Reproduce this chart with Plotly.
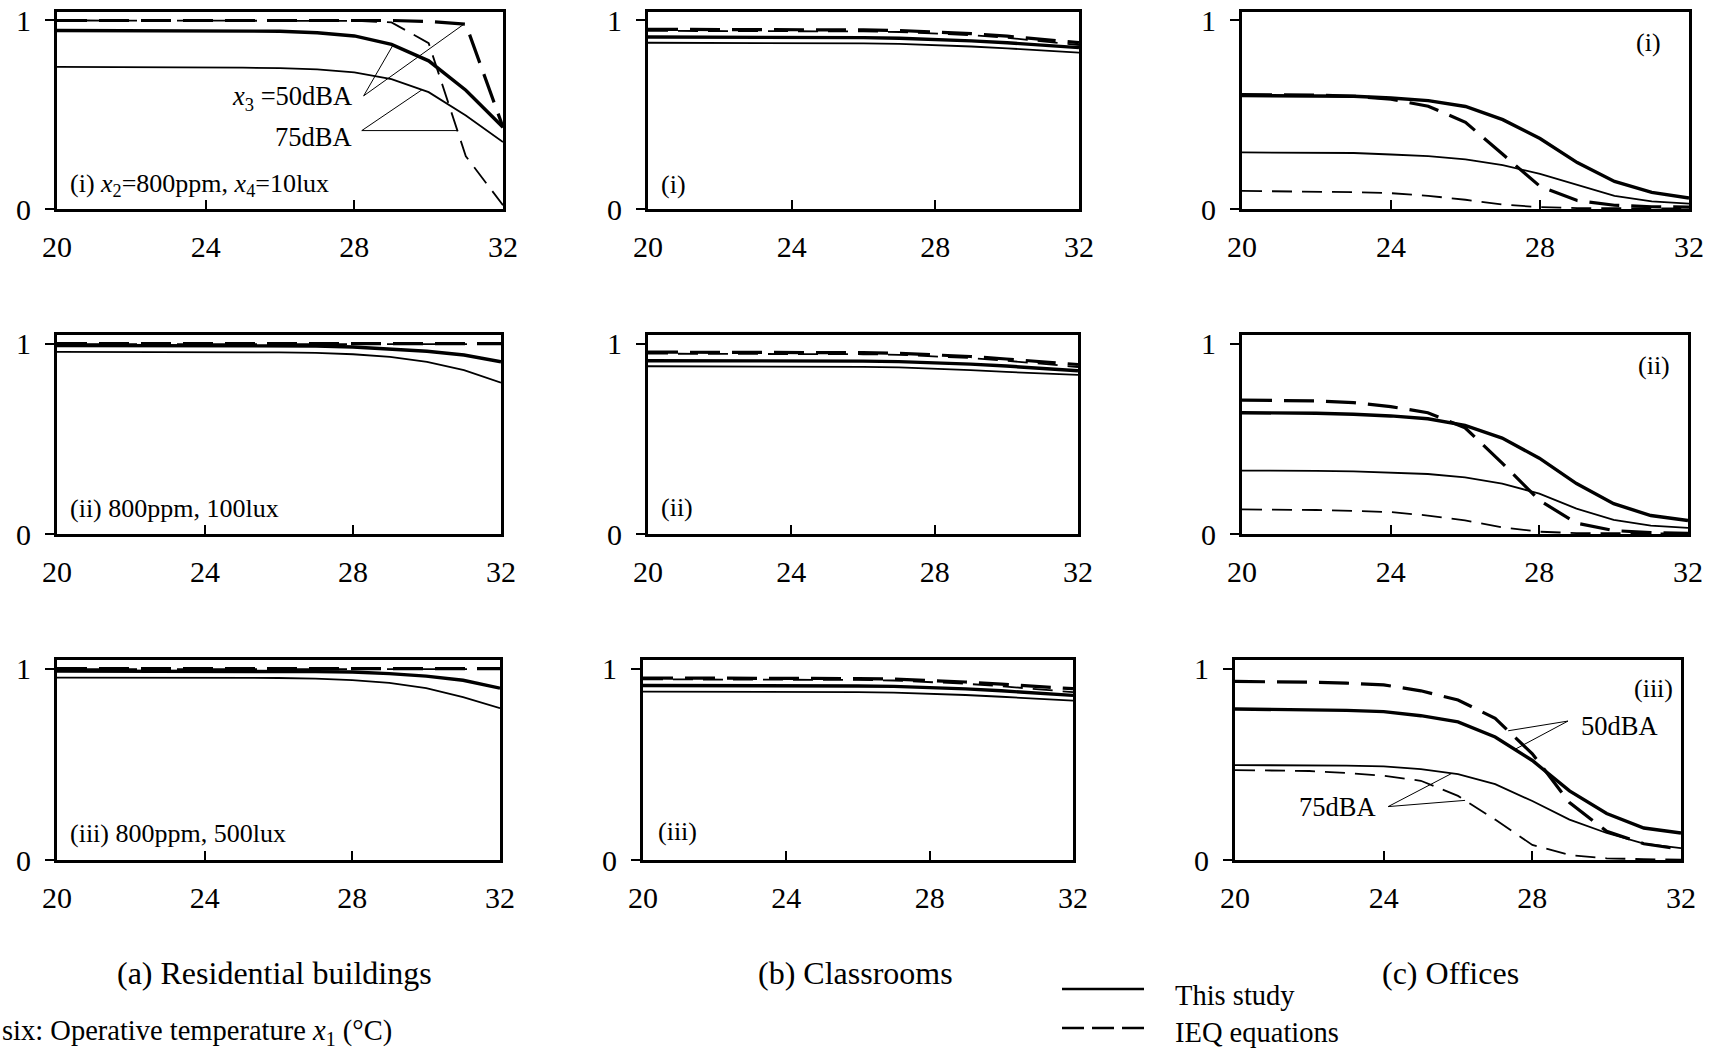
import numpy as np
import plotly.graph_objects as go

# ---------------- data ----------------
temps = [20, 21, 22, 23, 24, 25, 26, 27, 28, 29, 30, 31, 32]

# (a) Residential buildings
a1_this50 = [0.947, 0.947, 0.947, 0.946, 0.946, 0.945, 0.943, 0.935, 0.918, 0.873, 0.786, 0.630, 0.434]
a1_this75 = [0.754, 0.754, 0.753, 0.753, 0.752, 0.750, 0.747, 0.741, 0.725, 0.689, 0.620, 0.496, 0.355]
a1_ieq50 = [1.0, 1.0, 1.0, 1.0, 1.0, 1.0, 1.0, 1.0, 1.0, 1.0, 0.995, 0.980, 0.434]
a1_ieq75 = [1.0, 1.0, 1.0, 1.0, 1.0, 1.0, 1.0, 1.0, 0.998, 0.990, 0.880, 0.280, 0.020]

a2_this50 = [0.990, 0.990, 0.990, 0.990, 0.990, 0.990, 0.989, 0.987, 0.982, 0.973, 0.960, 0.940, 0.904]
a2_this75 = [0.956, 0.956, 0.956, 0.956, 0.955, 0.955, 0.954, 0.951, 0.944, 0.930, 0.904, 0.860, 0.795]
a2_ieq50 = [1.0, 1.0, 1.0, 1.0, 1.0, 1.0, 1.0, 1.0, 1.0, 1.0, 1.0, 1.0, 1.0]
a2_ieq75 = [0.997, 0.997, 0.997, 0.997, 0.997, 0.997, 0.997, 0.997, 0.997, 0.997, 0.997, 0.997, 0.997]

a3_this50 = [0.987, 0.987, 0.987, 0.987, 0.987, 0.986, 0.985, 0.984, 0.982, 0.974, 0.961, 0.939, 0.898]
a3_this75 = [0.953, 0.953, 0.953, 0.953, 0.952, 0.952, 0.951, 0.948, 0.940, 0.926, 0.898, 0.851, 0.793]
a3_ieq50 = [1.0, 1.0, 1.0, 1.0, 1.0, 1.0, 1.0, 1.0, 1.0, 1.0, 1.0, 1.0, 1.0]
a3_ieq75 = [0.997, 0.997, 0.997, 0.997, 0.997, 0.997, 0.997, 0.997, 0.997, 0.997, 0.997, 0.997, 0.997]

# (b) Classrooms
b1_this50 = [0.912, 0.912, 0.912, 0.911, 0.911, 0.910, 0.909, 0.906, 0.900, 0.892, 0.882, 0.869, 0.856]
b1_this75 = [0.882, 0.882, 0.882, 0.881, 0.881, 0.880, 0.879, 0.876, 0.870, 0.862, 0.852, 0.841, 0.830]
b1_ieq50 = [0.953, 0.953, 0.953, 0.952, 0.952, 0.951, 0.950, 0.947, 0.940, 0.930, 0.917, 0.900, 0.882]
b1_ieq75 = [0.945, 0.945, 0.945, 0.944, 0.944, 0.943, 0.942, 0.939, 0.932, 0.922, 0.908, 0.890, 0.870]

b2_this50 = [0.910, 0.910, 0.910, 0.910, 0.909, 0.909, 0.908, 0.905, 0.900, 0.892, 0.882, 0.870, 0.857]
b2_this75 = [0.881, 0.881, 0.881, 0.880, 0.880, 0.879, 0.878, 0.875, 0.869, 0.861, 0.851, 0.842, 0.836]
b2_ieq50 = [0.955, 0.955, 0.955, 0.954, 0.954, 0.953, 0.952, 0.949, 0.942, 0.932, 0.919, 0.904, 0.890]
b2_ieq75 = [0.947, 0.947, 0.947, 0.946, 0.946, 0.945, 0.944, 0.941, 0.934, 0.924, 0.910, 0.893, 0.877]

b3_this50 = [0.912, 0.912, 0.912, 0.911, 0.911, 0.910, 0.909, 0.907, 0.902, 0.894, 0.884, 0.872, 0.860]
b3_this75 = [0.880, 0.880, 0.880, 0.879, 0.879, 0.878, 0.877, 0.875, 0.870, 0.862, 0.853, 0.843, 0.833]
b3_ieq50 = [0.951, 0.951, 0.951, 0.950, 0.950, 0.949, 0.948, 0.945, 0.939, 0.930, 0.919, 0.907, 0.895]
b3_ieq75 = [0.944, 0.944, 0.944, 0.943, 0.943, 0.942, 0.941, 0.938, 0.931, 0.921, 0.908, 0.893, 0.877]

# (c) Offices
c1_this50 = [0.602, 0.601, 0.600, 0.598, 0.589, 0.575, 0.544, 0.474, 0.374, 0.246, 0.146, 0.088, 0.058]
c1_this75 = [0.300, 0.300, 0.299, 0.297, 0.289, 0.280, 0.263, 0.233, 0.186, 0.128, 0.070, 0.040, 0.028]
c1_ieq50 = [0.607, 0.606, 0.604, 0.598, 0.582, 0.545, 0.460, 0.290, 0.120, 0.045, 0.020, 0.012, 0.010]
c1_ieq75 = [0.096, 0.095, 0.093, 0.089, 0.084, 0.070, 0.049, 0.023, 0.010, 0.005, 0.004, 0.003, 0.003]

c2_this50 = [0.637, 0.636, 0.634, 0.629, 0.620, 0.605, 0.570, 0.504, 0.398, 0.265, 0.159, 0.097, 0.071]
c2_this75 = [0.333, 0.333, 0.332, 0.329, 0.322, 0.315, 0.297, 0.265, 0.212, 0.133, 0.074, 0.044, 0.032]
c2_ieq50 = [0.703, 0.702, 0.699, 0.690, 0.669, 0.637, 0.558, 0.372, 0.177, 0.057, 0.018, 0.007, 0.004]
c2_ieq75 = [0.129, 0.128, 0.126, 0.121, 0.115, 0.097, 0.071, 0.035, 0.012, 0.005, 0.004, 0.003, 0.003]

c3_this50 = [0.789, 0.788, 0.786, 0.782, 0.775, 0.754, 0.722, 0.643, 0.520, 0.361, 0.243, 0.167, 0.141]
c3_this75 = [0.496, 0.496, 0.495, 0.493, 0.489, 0.475, 0.449, 0.396, 0.308, 0.211, 0.141, 0.085, 0.062]
c3_ieq50 = [0.933, 0.932, 0.929, 0.924, 0.915, 0.884, 0.836, 0.740, 0.555, 0.300, 0.150, 0.085, 0.056]
c3_ieq75 = [0.470, 0.469, 0.465, 0.455, 0.440, 0.414, 0.335, 0.211, 0.079, 0.026, 0.009, 0.004, 0.002]

x_ticks = [20, 24, 28, 32]
y_ticks = [0, 1]

panel_labels = [
    ["(i) <i>x</i><sub>2</sub>=800ppm, <i>x</i><sub>4</sub>=10lux", "(i)", "(i)"],
    ["(ii) 800ppm, 100lux", "(ii)", "(ii)"],
    ["(iii) 800ppm, 500lux", "(iii)", "(iii)"],
]
captions = ["(a) Residential buildings", "(b) Classrooms", "(c) Offices"]

panels = [
    [(a1_this50, a1_this75, a1_ieq50, a1_ieq75), (b1_this50, b1_this75, b1_ieq50, b1_ieq75), (c1_this50, c1_this75, c1_ieq50, c1_ieq75)],
    [(a2_this50, a2_this75, a2_ieq50, a2_ieq75), (b2_this50, b2_this75, b2_ieq50, b2_ieq75), (c2_this50, c2_this75, c2_ieq50, c2_ieq75)],
    [(a3_this50, a3_this75, a3_ieq50, a3_ieq75), (b3_this50, b3_this75, b3_ieq50, b3_ieq75), (c3_this50, c3_this75, c3_ieq50, c3_ieq75)],
]

# ---------------- layout geometry (pixels) ----------------
W, H = 1716, 1052
FONT = "Liberation Serif, Times New Roman, serif"

def px(x):
    return x / W

def py(y):
    return 1 - y / H

# (left, right, top, bottom) of each panel frame
boxes = [
    [(57, 503, 12, 209), (648, 1079, 12, 209), (1242, 1689, 12, 209)],
    [(57, 501, 335, 534), (648, 1078, 335, 534), (1242, 1688, 335, 534)],
    [(57, 500, 660, 860), (643, 1073, 660, 860), (1235, 1681, 660, 860)],
]

YMAX = 1.045

fig = go.Figure()
layout = dict(
    width=W, height=H, margin=dict(l=0, r=0, t=0, b=0, pad=0, autoexpand=False),
    paper_bgcolor="white", plot_bgcolor="white", showlegend=False,
    font=dict(family=FONT, color="black"),
)

styles = [
    dict(width=3.4, dash="solid"),
    dict(width=1.8, dash="solid"),
    dict(width=3.2, dash="30px,12px"),
    dict(width=1.8, dash="20px,10px"),
]
names = ["This study, 50dBA", "This study, 75dBA", "IEQ equations, 50dBA", "IEQ equations, 75dBA"]

annotations = []
shapes = []

for r in range(3):
    for c in range(3):
        i = r * 3 + c + 1
        xa = "x" if i == 1 else f"x{i}"
        ya = "y" if i == 1 else f"y{i}"
        l, rr, t, b = boxes[r][c]
        layout[f"xaxis{i}"] = dict(
            domain=[px(l), px(rr)], range=[20, 32], anchor=ya, automargin=False,
            tickvals=x_ticks, ticks="inside", ticklen=9, tickwidth=2, tickcolor="black",
            showline=True, linewidth=3, linecolor="black", mirror=True,
            showgrid=False, zeroline=False, tickfont=dict(size=30, family=FONT, color="black"),
            ticklabelstandoff=9,
        )
        layout[f"yaxis{i}"] = dict(
            domain=[py(b), py(t)], range=[0, YMAX], anchor=xa, automargin=False,
            tickvals=y_ticks, ticks="outside", ticklen=9, tickwidth=1.5, tickcolor="black",
            showline=True, linewidth=3, linecolor="black", mirror=True,
            showgrid=False, zeroline=False, tickfont=dict(size=30, family=FONT, color="black"),
            ticklabelstandoff=8,
        )
        for k, series in enumerate(panels[r][c]):
            fig.add_trace(go.Scatter(
                x=temps, y=series, mode="lines", name=names[k],
                line=dict(color="black", width=styles[k]["width"], dash=styles[k]["dash"]),
                xaxis=xa, yaxis=ya, hoverinfo="x+y+name",
            ))

# panel labels
label_pos = [
    [(68, 185, "left"), (659, 185, "left"), (1663, 43, "right")],
    [(68, 508, "left"), (659, 507, "left"), (1672, 365, "right")],
    [(68, 833, "left"), (656, 831, "left"), (1675, 688, "right")],
]
for r in range(3):
    for c in range(3):
        x0, y0, anc = label_pos[r][c]
        annotations.append(dict(
            text=panel_labels[r][c], x=px(x0), y=py(y0), xref="paper", yref="paper",
            xanchor=anc, yanchor="middle", showarrow=False,
            font=dict(size=26, family=FONT, color="black"),
        ))

# captions
for txt, cx in zip(captions, [274, 855, 1450]):
    annotations.append(dict(
        text=txt, x=px(cx), y=py(973), xref="paper", yref="paper",
        xanchor="center", yanchor="middle", showarrow=False,
        font=dict(size=32, family=FONT, color="black"),
    ))

annotations.append(dict(
    text="six: Operative temperature <i>x</i><sub>1</sub> (°C)", x=0, y=py(1032),
    xref="paper", yref="paper", xanchor="left", yanchor="middle", showarrow=False,
    font=dict(size=28.5, family=FONT, color="black"),
))

# legend drawn manually
shapes.append(dict(type="line", xref="paper", yref="paper",
                   x0=px(1062), x1=px(1144), y0=py(989), y1=py(989),
                   line=dict(color="black", width=2.5)))
shapes.append(dict(type="line", xref="paper", yref="paper",
                   x0=px(1062), x1=px(1144), y0=py(1028), y1=py(1028),
                   line=dict(color="black", width=2.5, dash="22px,8px")))
annotations.append(dict(text="This study", x=px(1173), y=py(995), xref="paper", yref="paper",
                        xanchor="left", yanchor="middle", showarrow=False,
                        font=dict(size=28.5, family=FONT, color="black")))
annotations.append(dict(text="IEQ equations", x=px(1173), y=py(1032), xref="paper", yref="paper",
                        xanchor="left", yanchor="middle", showarrow=False,
                        font=dict(size=28.5, family=FONT, color="black")))

# ---------------- leader annotations ----------------
def on(series, xv):
    return float(np.interp(xv, temps, series))

def leader(xref, yref, x0, y0, x1, y1):
    shapes.append(dict(type="line", xref=xref, yref=yref, x0=x0, y0=y0, x1=x1, y1=y1,
                       line=dict(color="black", width=1)))

# panel (a)(i)
annotations.append(dict(text="<i>x</i><sub>3</sub> =50dBA", x=28.0, y=0.59, xref="x", yref="y",
                        xanchor="right", yanchor="middle", showarrow=False,
                        font=dict(size=26.5, family=FONT, color="black")))
annotations.append(dict(text="75dBA", x=28.0, y=0.38, xref="x", yref="y",
                        xanchor="right", yanchor="middle", showarrow=False,
                        font=dict(size=26.5, family=FONT, color="black")))
leader("x", "y", 28.25, 0.60, 29.04, on(a1_this50, 29.04))
leader("x", "y", 28.25, 0.60, 30.95, on(a1_ieq50, 30.95))
leader("x", "y", 28.2, 0.416, 29.82, on(a1_this75, 29.82))
# horizontal leader reaching the falling IEQ 75dBA curve
seg_x = temps[10:12]
seg_y = a1_ieq75[10:12]
x_hit = float(np.interp(0.416, seg_y[::-1], seg_x[::-1]))
leader("x", "y", 28.2, 0.416, x_hit, 0.416)

# panel (c)(iii)
annotations.append(dict(text="50dBA", x=29.25, y=0.70, xref="x9", yref="y9",
                        xanchor="left", yanchor="middle", showarrow=False,
                        font=dict(size=26.5, family=FONT, color="black")))
annotations.append(dict(text="75dBA", x=22.77, y=0.279, xref="x9", yref="y9",
                        xanchor="center", yanchor="middle", showarrow=False,
                        font=dict(size=26.5, family=FONT, color="black")))
leader("x9", "y9", 28.96, 0.726, 27.35, on(c3_ieq50, 27.35))
leader("x9", "y9", 28.96, 0.726, 27.53, on(c3_this50, 27.53))
leader("x9", "y9", 24.12, 0.279, 25.84, on(c3_this75, 25.84))
leader("x9", "y9", 24.12, 0.279, 26.19, on(c3_ieq75, 26.19))

layout["annotations"] = annotations
layout["shapes"] = shapes
fig.update_layout(**layout)

fig.write_html("out.html", config={"displayModeBar": False},
               post_script="document.body.style.margin='0';document.body.style.overflow='hidden';")
